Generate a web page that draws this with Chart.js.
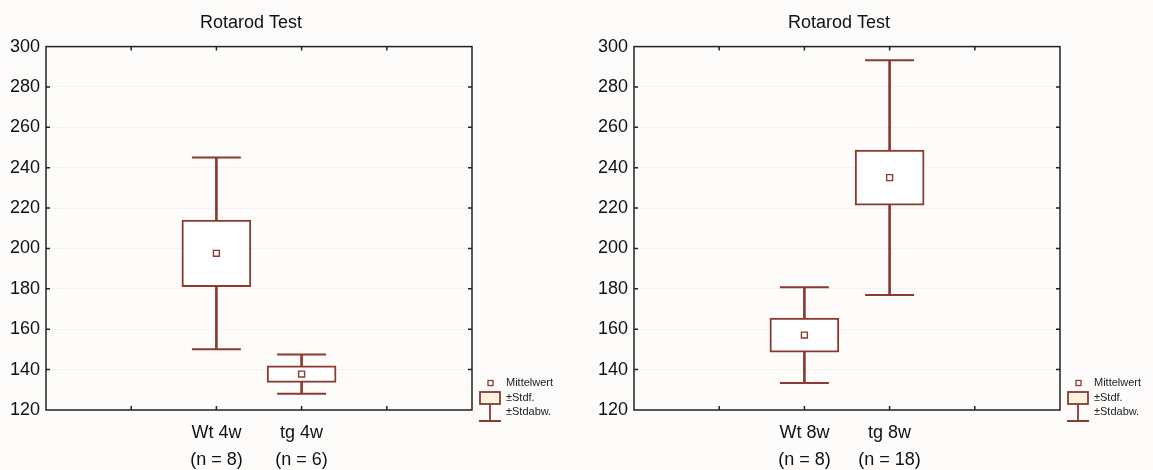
<!DOCTYPE html>
<html>
<head>
<meta charset="utf-8">
<script src="https://cdn.jsdelivr.net/npm/chart.js@4.4.1/dist/chart.umd.min.js"></script>
<style>
    body { margin: 0; background: #fdfcfb; }
    #wrap { position: relative; width: 1153px; height: 470px; }
    .panel { position: absolute; top: 0; height: 470px; }
</style>
</head>
<body>
<div id="wrap">
    <div class="panel" style="left:0;width:576px"><canvas id="chart4w"></canvas></div>
    <div class="panel" style="left:576px;width:577px"><canvas id="chart8w"></canvas></div>
</div>
<script>
// values (seconds on the rotarod)
const groups4w = ['Wt 4w', 'tg 4w'];
const n4w = [8, 6];
const mean4w = [197.6, 137.8];
const se4w = [16.5, 4.1];
const sd4w = [47.5, 9.7];

const groups8w = ['Wt 8w', 'tg 8w'];
const n8w = [8, 18];
const mean8w = [157.1, 235.1];
const se8w = [8.4, 13.6];
const sd8w = [23.7, 58.1];

const yTickValues = [120, 140, 160, 180, 200, 220, 240, 260, 280, 300];
const legendLabels = ['Mittelwert', '\u00b1Stdf.', '\u00b1Stdabw.'];
const chartTitle = 'Rotarod Test';

const col = '#8a3b30';
const font = 'Liberation Sans, Arial, sans-serif';

// two empty slots each side, groups sit on the 2nd and 3rd inner tick
function pad(arr) {
    return [null, null, ...arr, null, null];
}

// frame with inward ticks + the little key on the right
const framePlugin = {
    id: 'frame',
    afterDatasetsDraw(chart) {
        const ctx = chart.ctx;
        const a = chart.chartArea;
        const x = chart.scales.x, y = chart.scales.y;
        ctx.save();
        ctx.strokeStyle = '#222';
        ctx.lineWidth = 1.5;
        ctx.strokeRect(a.left, a.top, a.right - a.left, a.bottom - a.top);
        ctx.beginPath();
        for (let i = 1; i < x.getLabels().length - 1; i++) {
            let px = x.getPixelForValue(i);
            ctx.moveTo(px, a.bottom); ctx.lineTo(px, a.bottom - 4);
            ctx.moveTo(px, a.top); ctx.lineTo(px, a.top + 4);
        }
        for (let i = 1; i < yTickValues.length - 1; i++) {
            let py = y.getPixelForValue(yTickValues[i]);
            ctx.moveTo(a.left, py); ctx.lineTo(a.left + 4, py);
            ctx.moveTo(a.right, py); ctx.lineTo(a.right - 4, py);
        }
        ctx.stroke();

        // key
        let r = a.right;
        ctx.strokeStyle = col;
        ctx.lineWidth = 1.3;
        ctx.fillStyle = '#fff';
        ctx.fillRect(r + 16, 380.5, 5, 5);
        ctx.strokeRect(r + 16, 380.5, 5, 5);
        ctx.lineWidth = 1.8;
        ctx.fillStyle = '#fff3e0';
        ctx.fillRect(r + 8, 392, 20, 12);
        ctx.strokeRect(r + 8, 392, 20, 12);
        ctx.beginPath();
        ctx.moveTo(r + 18, 404); ctx.lineTo(r + 18, 421);
        ctx.moveTo(r + 7, 421); ctx.lineTo(r + 29, 421);
        ctx.stroke();

        ctx.fillStyle = '#222';
        ctx.font = '11px ' + font;
        ctx.textBaseline = 'middle';
        ctx.textAlign = 'left';
        legendLabels.forEach((t, i) => ctx.fillText(t, r + 34, 383 + i * 14.5));
        ctx.restore();
    }
};

function makeChart(id, groups, n, mean, se, sd, padLeft, padRight) {
    let labels = pad(groups.map((g, i) => [g, '(n = ' + n[i] + ')'])).map(l => l === null ? '' : l);
    let sdHigh = mean.map((m, i) => m + sd[i]);
    let sdLow = mean.map((m, i) => m - sd[i]);

    return new Chart(document.getElementById(id), {
        type: 'bar',
        data: {
            labels: labels,
            datasets: [
                {
                    type: 'line', label: 'Mittelwert', data: pad(mean), showLine: false,
                    pointStyle: 'rect', pointRadius: 4.2, pointBorderWidth: 1.4,
                    borderColor: col, backgroundColor: '#fff'
                },
                {
                    type: 'line', label: 'sd+', data: pad(sdHigh), showLine: false,
                    pointStyle: 'line', pointRadius: 24.5, pointBorderWidth: 2, borderColor: col
                },
                {
                    type: 'line', label: 'sd-', data: pad(sdLow), showLine: false,
                    pointStyle: 'line', pointRadius: 24.5, pointBorderWidth: 2, borderColor: col
                },
                {
                    label: '\u00b1Stdf.', data: pad(mean.map((m, i) => [m - se[i], m + se[i]])),
                    barThickness: 69, backgroundColor: '#fff', borderColor: col,
                    borderWidth: 2, borderSkipped: false, grouped: false
                },
                {
                    label: '\u00b1Stdabw.', data: pad(sdLow.map((lo, i) => [lo, sdHigh[i]])),
                    barThickness: 2, backgroundColor: col, borderWidth: 0, grouped: false
                }
            ]
        },
        options: {
            responsive: false,
            animation: false,
            layout: { padding: { left: padLeft, right: padRight, top: 0, bottom: 0 } },
            plugins: {
                legend: { display: false },
                tooltip: { enabled: false },
                title: {
                    display: true, text: chartTitle, color: '#111',
                    font: { family: font, size: 18, weight: 'normal' },
                    padding: { top: 12, bottom: 13 }
                }
            },
            scales: {
                x: {
                    type: 'category', offset: false,
                    grid: { display: false, drawTicks: false },
                    border: { display: false },
                    ticks: {
                        autoSkip: false, maxRotation: 0, padding: 10, color: '#111',
                        font: { family: font, size: 18, lineHeight: 1.5 }
                    },
                    afterFit(s) { s.height = 60; }
                },
                y: {
                    min: yTickValues[0], max: yTickValues[yTickValues.length - 1],
                    afterBuildTicks(s) { s.ticks = yTickValues.map(v => ({ value: v })); },
                    grid: { color: 'rgba(0,0,0,0.035)', drawTicks: false },
                    border: { display: false },
                    ticks: { padding: 6, color: '#111', font: { family: font, size: 18 } },
                    afterFit(s) { s.width = 46; }
                },
                // empty spacer on the right so the title sits a bit left of the plot centre
                ySpacer: {
                    position: 'right',
                    grid: { display: false, drawTicks: false },
                    border: { display: false },
                    ticks: { display: false },
                    afterFit(s) { s.width = 30; }
                }
            }
        },
        plugins: [framePlugin]
    });
}

function sizeCanvas(id, w) {
    let c = document.getElementById(id);
    c.width = w; c.height = 470;
    c.style.width = w + 'px'; c.style.height = '470px';
}

sizeCanvas('chart4w', 576);
sizeCanvas('chart8w', 577);
makeChart('chart4w', groups4w, n4w, mean4w, se4w, sd4w, 0, 74);
makeChart('chart8w', groups8w, n8w, mean8w, se8w, sd8w, 12, 63);
</script>
</body>
</html>
